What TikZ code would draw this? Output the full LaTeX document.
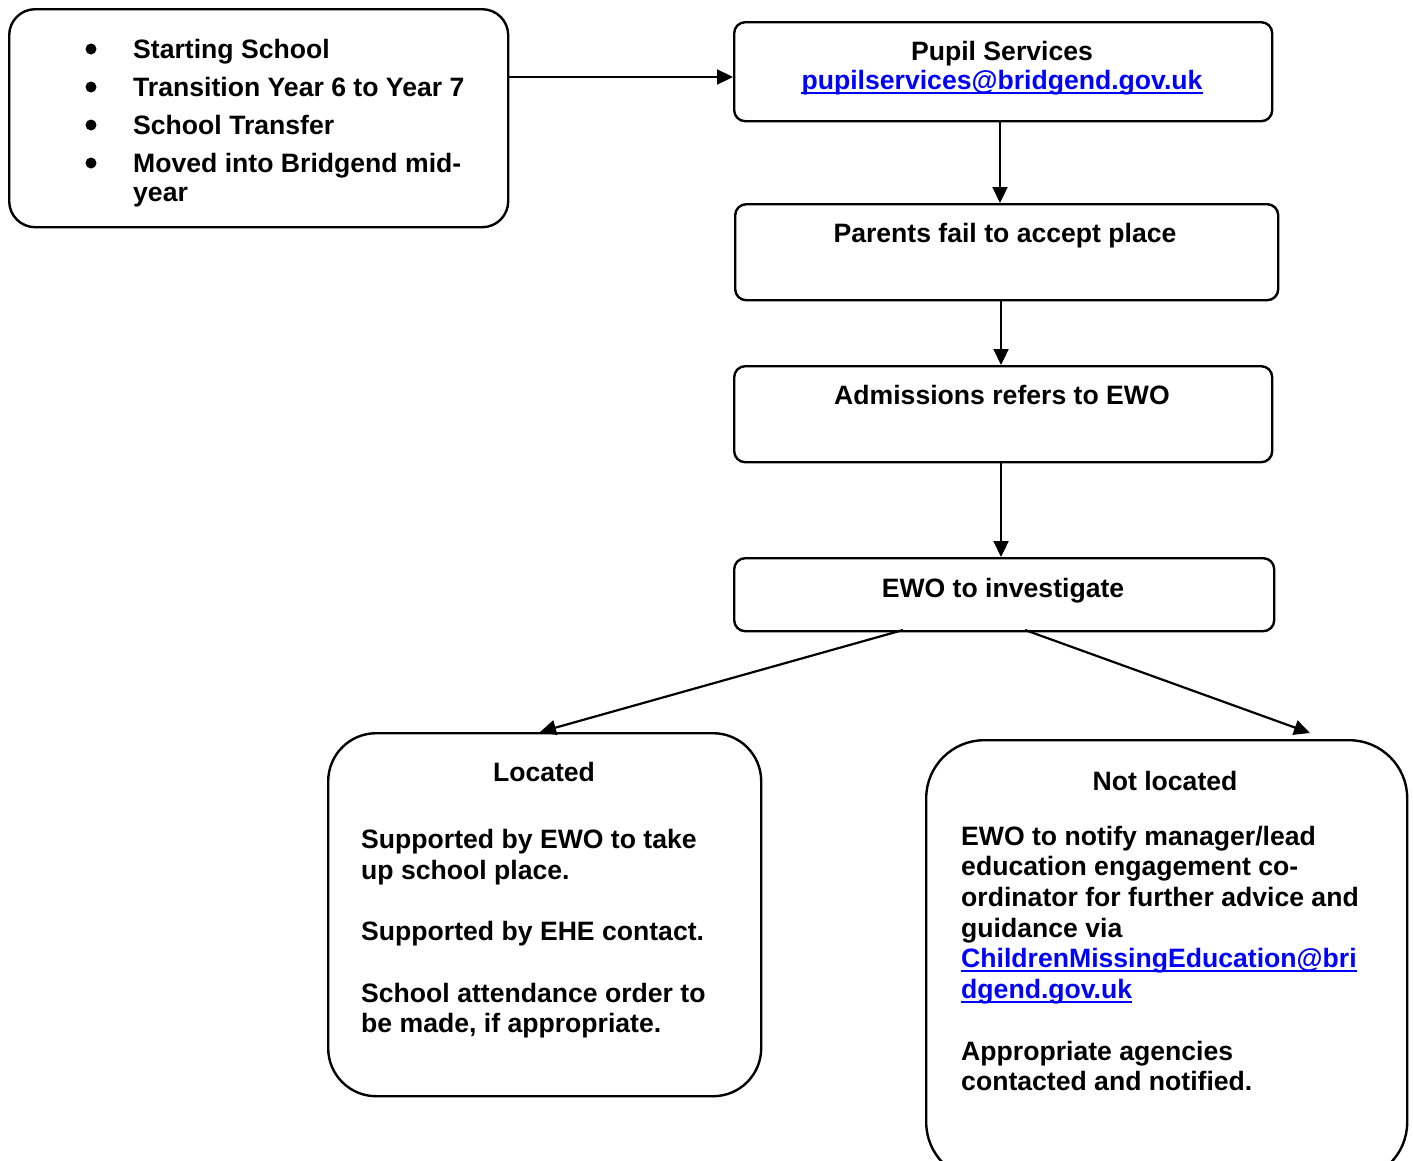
\documentclass[tikz,border=0pt]{standalone}
\usepackage{fontspec}
\setmainfont{Liberation Sans}
\usetikzlibrary{arrows.meta,calc}
\definecolor{linkblue}{RGB}{0,0,255}
\begin{document}
\begin{tikzpicture}[x=1pt,y=-1pt,
  box/.style={draw, line width=2.4pt, inner sep=0pt, anchor=north west, fill=none},
  txt/.style={inner sep=0pt, anchor=base west, font=\fontsize{26.6}{30.6}\selectfont\bfseries},
  ctxt/.style={txt, anchor=base},
  link/.style={text=linkblue},
  uline/.style={draw=linkblue, line width=2.4pt},
  arr/.style={draw, line width=2.2pt, -{Triangle[length=16pt,width=15pt]}},
  bul/.style={fill, circle, inner sep=0pt, minimum size=11pt}
]
\useasboundingbox (0,0) rectangle (1413,1160);
\clip (0,0) rectangle (1413,1160);

% boxes
\node[box, minimum width=499, minimum height=218, rounded corners=26pt] (A) at (8,8) {};
\node[box, minimum width=538, minimum height=99, rounded corners=11pt] (pupil) at (733,21) {};
\node[box, minimum width=543, minimum height=96, rounded corners=11pt] (parents) at (734,203) {};
\node[box, minimum width=538, minimum height=96, rounded corners=11pt] (adm) at (733,365) {};
\node[box, minimum width=540, minimum height=73, rounded corners=11pt] (ewo) at (733,557) {};
\node[box, minimum width=433, minimum height=363, rounded corners=48pt] (loc) at (327,732) {};
\node[box, minimum width=481, minimum height=440, rounded corners=58pt] (nloc) at (925,739) {};

% bullets list
\node[bul] (b1) at (91,49) {};
\node[bul] (b2) at (91,87) {};
\node[bul] (b3) at (91,125) {};
\node[bul] (b4) at (91,163) {};
\node[txt] (t1) at (133,58) {Starting School};
\node[txt] (t2) at (133,96) {Transition Year 6 to Year 7};
\node[txt] (t3) at (133,134) {School Transfer};
\node[txt] (t4) at (133,172) {Moved into Bridgend mid-};
\node[txt] (t5) at (133,201) {year};

% pupil services
\node[ctxt] (ps) at (1002,60) {Pupil Services};
\node[ctxt, link] (psmail) at (1002,89) {pupilservices@bridgend.gov.uk};
\draw[uline] ($(psmail.base west)+(0,4)$) -- ($(psmail.base east)+(0,4)$);

\node[ctxt] (pf) at (1005,242) {Parents fail to accept place};
\node[ctxt] (ar) at (1002,404) {Admissions refers to EWO};
\node[ctxt] (ei) at (1003,597) {EWO to investigate};

% located
\node[ctxt] (lt) at (544,781) {Located};
\node[txt] (l1) at (361,848) {Supported by EWO to take};
\node[txt] (l2) at (361,879) {up school place.};
\node[txt] (l3) at (361,940) {Supported by EHE contact.};
\node[txt] (l4) at (361,1002) {School attendance order to};
\node[txt] (l5) at (361,1032) {be made, if appropriate.};

% not located
\node[ctxt] (nt) at (1165,790) {Not located};
\node[txt] (n1) at (961,845) {EWO to notify manager/lead};
\node[txt] (n2) at (961,875) {education engagement co-};
\node[txt] (n3) at (961,906) {ordinator for further advice and};
\node[txt] (n4) at (961,937) {guidance via};
\node[txt, link] (n5) at (961,967) {ChildrenMissingEducation@bri};
\node[txt, link] (n6) at (961,998) {dgend.gov.uk};
\draw[uline] ($(n5.base west)+(0,4)$) -- ($(n5.base east)+(0,4)$);
\draw[uline] ($(n6.base west)+(0,4)$) -- ($(n6.base east)+(0,4)$);
\node[txt] (n7) at (961,1060) {Appropriate agencies};
\node[txt] (n8) at (961,1090) {contacted and notified.};

% connectors
\coordinate (aout) at (507,77);
\draw[arr] (aout) -- (aout -| pupil.west);
\draw[arr] (1000,120) -- (1000,203);
\draw[arr] (1001,299) -- (1001,365);
\draw[arr] (1001,461) -- (1001,557);
\coordinate (ewoL) at (903,630);
\coordinate (ewoR) at (1025,630);
\coordinate (locTip) at (540,732);
\coordinate (nlocTip) at (1310,733);
\draw[arr] (ewoL) -- (locTip);
\draw[arr] (ewoR) -- (nlocTip);
\end{tikzpicture}
\end{document}
